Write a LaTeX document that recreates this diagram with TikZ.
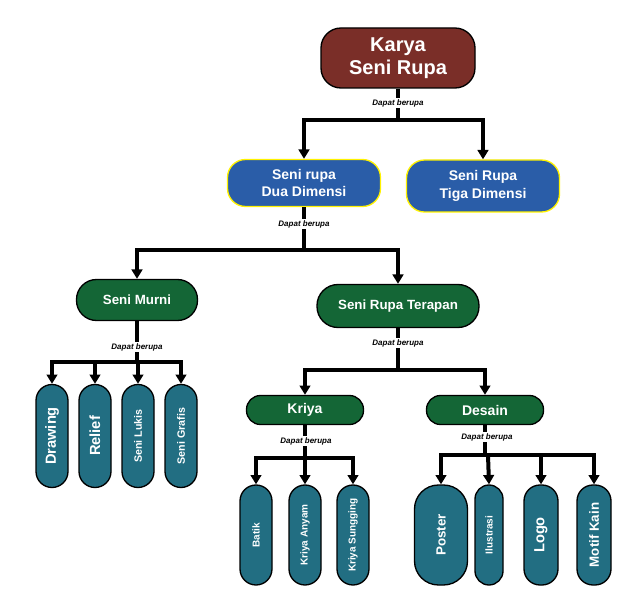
\documentclass[tikz,border=0pt]{standalone}
\usepackage{fontspec}
\setmainfont{Liberation Sans}
\usetikzlibrary{arrows.meta}
\definecolor{brn}{HTML}{7A2E28}
\definecolor{blu}{HTML}{2A5DA8}
\definecolor{grn}{HTML}{146636}
\definecolor{tea}{HTML}{226E82}
\begin{document}
\begin{tikzpicture}[x=0.75pt,y=-0.75pt,
  box/.style={draw=black,line width=1pt,text=white,font=\bfseries,align=center,inner sep=0pt},
  col/.style={box,fill=tea,rotate=90,minimum height=32*0.75pt,rounded corners=16*0.75pt,minimum width=100*0.75pt},
  lnk/.style={line width=3pt},
  arr/.style={line width=3pt,-{Triangle[width=8pt,length=7pt]}},
  lab/.style={font=\fontsize{6}{7}\selectfont\bfseries\itshape,fill=white,inner sep=1pt}]
\useasboundingbox (0,0) rectangle (621,595);
% nodes
\node[box,fill=brn,minimum width=154*0.75pt,minimum height=60*0.75pt,rounded corners=20*0.75pt,font=\fontsize{15}{17}\selectfont\bfseries] (k) at (398,58) {Karya\\Seni Rupa};
\node[box,fill=blu,draw=yellow,minimum width=153*0.75pt,minimum height=47*0.75pt,rounded corners=18*0.75pt,font=\fontsize{10.5}{13}\selectfont\bfseries] (d2) at (304,183) {Seni rupa\\Dua Dimensi};
\node[box,fill=blu,draw=yellow,minimum width=153*0.75pt,minimum height=52*0.75pt,rounded corners=18*0.75pt,font=\fontsize{10.5}{13}\selectfont\bfseries] (d3) at (483,186) {Seni Rupa\\Tiga Dimensi};
\node[box,fill=grn,minimum width=121*0.75pt,minimum height=41*0.75pt,rounded corners=20*0.75pt,font=\fontsize{10}{12}\selectfont\bfseries] (sm) at (137,300) {Seni Murni};
\node[box,fill=grn,minimum width=162*0.75pt,minimum height=43*0.75pt,rounded corners=21*0.75pt,font=\fontsize{10}{12}\selectfont\bfseries] (st) at (398,306) {Seni Rupa Terapan};
\node[box,fill=grn,minimum width=117*0.75pt,minimum height=29*0.75pt,rounded corners=14*0.75pt,font=\fontsize{10.5}{12}\selectfont\bfseries] (kr) at (305,410) {Kriya};
\node[box,fill=grn,minimum width=117*0.75pt,minimum height=29*0.75pt,rounded corners=14*0.75pt,font=\fontsize{10.5}{12}\selectfont\bfseries] (ds) at (485,410) {Desain};
\node[col,minimum width=103*0.75pt,font=\fontsize{11}{12}\selectfont\bfseries] (c1) at (52,436) {Drawing};
\node[col,minimum width=103*0.75pt,font=\fontsize{11}{12}\selectfont\bfseries] (c2) at (95,436) {Relief};
\node[col,minimum width=103*0.75pt,font=\fontsize{8}{9}\selectfont\bfseries] (c3) at (138,436) {Seni Lukis};
\node[col,minimum width=103*0.75pt,font=\fontsize{8}{9}\selectfont\bfseries] (c4) at (181,436) {Seni Grafis};
\node[col,font=\fontsize{7.5}{9}\selectfont\bfseries] (b1) at (256,535) {Batik};
\node[col,font=\fontsize{7.5}{9}\selectfont\bfseries] (b2) at (305,535) {Kriya Anyam};
\node[col,font=\fontsize{7.5}{9}\selectfont\bfseries] (b3) at (353,535) {Kriya Sungging};
\node[col,minimum height=53*0.75pt,rounded corners=24*0.75pt,font=\fontsize{10}{12}\selectfont\bfseries] (e1) at (441,535) {Poster};
\node[col,minimum height=28*0.75pt,rounded corners=14*0.75pt,font=\fontsize{7.5}{9}\selectfont\bfseries] (e2) at (489,535) {Ilustrasi};
\node[col,minimum height=34*0.75pt,font=\fontsize{11}{12}\selectfont\bfseries] (e3) at (541,535) {Logo};
\node[col,minimum height=34*0.75pt,font=\fontsize{10}{12}\selectfont\bfseries] (e4) at (594,535) {Motif Kain};
% connectors
\coordinate (j1) at (398,120); \coordinate (j2) at (304,250); \coordinate (j3) at (116,362);
\coordinate (j4) at (398,370); \coordinate (j5) at (305,458); \coordinate (j6) at (488,455);
\draw[lnk] (k.south) -- (j1);
\draw[arr] (j1) -| (d2.north); \draw[arr] (j1) -| (d3.north);
\node[lab] at (398,103) {Dapat berupa};
\draw[lnk] (d2.south) -- (j2);
\draw[arr] (j2) -| (sm.north); \draw[arr] (j2) -| (st.north);
\node[lab] at (304,224) {Dapat berupa};
\draw[lnk] (sm.south) -- (137,362);
\draw[arr] (137,362) -| (c1.east); \draw[arr] (95,362) -- (c2.east);
\draw[arr] (138,362) -- (c3.east); \draw[arr] (137,362) -| (c4.east);
\node[lab] at (137,347) {Dapat berupa};
\draw[lnk] (st.south) -- (j4);
\draw[arr] (j4) -| (kr.north); \draw[arr] (j4) -| (ds.north);
\node[lab] at (398,343) {Dapat berupa};
\draw[lnk] (kr.south) -- (j5);
\draw[arr] (j5) -| (b1.east); \draw[arr] (j5) -- (b2.east); \draw[arr] (j5) -| (b3.east);
\node[lab] at (306,441) {Dapat berupa};
\draw[lnk] (ds.south) -- (485,455);
\draw[arr] (485,455) -| (e1.east); \draw[arr] (488,455) -- (e2.east);
\draw[arr] (485,455) -| (e3.east); \draw[arr] (485,455) -| (e4.east);
\node[lab] at (487,437) {Dapat berupa};
\end{tikzpicture}
\end{document}
